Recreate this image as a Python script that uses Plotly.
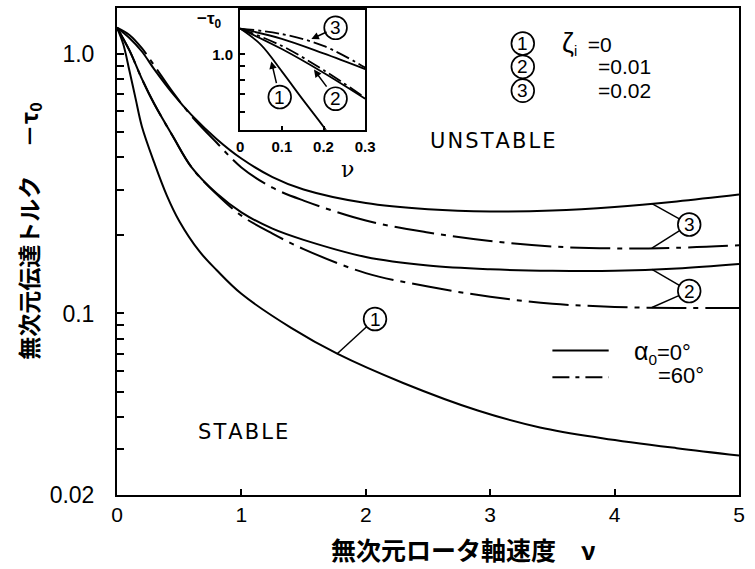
import numpy as np
import plotly.graph_objects as go

# ---- main chart: dimensionless rotor axial speed ν vs. transmitted torque −τ0 ----
nu_1 = [0, 0.05, 0.1, 0.15, 0.2, 0.3, 0.4, 0.5, 0.66, 0.8, 1.0, 1.4, 1.77, 2.3, 2.9, 3.4, 3.9, 4.5, 5.0]
tau_1 = [1.26, 1.09, 0.86, 0.67, 0.525, 0.38, 0.285, 0.227, 0.174, 0.147, 0.119, 0.088, 0.070,
         0.054, 0.0423, 0.0364, 0.0331, 0.0303, 0.0284]

nu_23 = [0, 0.1, 0.2, 0.3, 0.45, 0.6, 0.8, 1.0, 1.25, 1.5, 2.0, 2.5, 3.0, 3.5, 4.0, 4.5, 5.0]
tau_2_a0 = [1.26, 1.03, 0.80, 0.64, 0.48, 0.365, 0.29, 0.245, 0.212, 0.192, 0.165, 0.153,
            0.148, 0.146, 0.146, 0.149, 0.155]
tau_2_a60 = [1.26, 1.03, 0.80, 0.64, 0.48, 0.365, 0.288, 0.238, 0.203, 0.177, 0.143, 0.127,
             0.116, 0.109, 0.106, 0.105, 0.105]
tau_3_a0 = [1.26, 1.15, 1.02, 0.87, 0.70, 0.58, 0.47, 0.395, 0.335, 0.30, 0.266, 0.252,
            0.247, 0.249, 0.257, 0.270, 0.287]
tau_3_a60 = [1.26, 1.18, 1.05, 0.90, 0.71, 0.575, 0.455, 0.365, 0.305, 0.272, 0.228, 0.205,
             0.190, 0.181, 0.178, 0.179, 0.183]

# ---- inset: close-up of small ν ----
inset_nu_1 = [0, 0.05, 0.1, 0.15, 0.2, 0.22]
inset_tau_1 = [1.26, 1.09, 0.86, 0.67, 0.525, 0.47]
inset_nu = [0, 0.1, 0.2, 0.3]
inset_tau_2_a0 = [1.26, 1.05, 0.85, 0.674]
inset_tau_2_a60 = [1.26, 1.08, 0.87, 0.68]
inset_tau_3_a0 = [1.26, 1.15, 1.01, 0.878]
inset_tau_3_a60 = [1.26, 1.20, 1.08, 0.89]

y_major = [0.02, 0.1, 1.0]
y_major_text = ["0.02", "0.1", "1.0"]
y_minor = [0.03, 0.04, 0.05, 0.06, 0.07, 0.08, 0.09, 0.2, 0.3, 0.4, 0.5, 0.6, 0.7, 0.8, 0.9]
x_ticks = [0, 1, 2, 3, 4, 5]
inset_x_ticks = [0, 0.1, 0.2, 0.3]
inset_x_text = ["0", "0.1", "0.2", "0.3"]
inset_y_major, inset_y_major_text = [1.0], ["1.0"]
inset_y_minor = [0.6, 0.7, 0.8, 0.9]
zeta_labels = ["<span style='font-size:27px'>ζ</span><sub>i</sub>\u2002=0", "=0.01", "=0.02"]

INK = "black"
DASHDOT = "40px,7px,5px,7px"
INSET_DASH = "14px,4px,3px,4px"
TXT_FONT = dict(family="Liberation Sans", size=21, color=INK)
DIGIT_FONT = dict(family="Liberation Sans", size=19, color=INK)
R = 11.5  # radius of the circled curve numbers, px

# figure geometry (px) used to size circles on the axes
W, H = 755, 569
ML, MR, MT, MB = 117, 8, 6, 74
PW, PH = W - ML - MR, H - MT - MB
Y_RANGE = [np.log10(0.02), np.log10(1.5)]
X2_DOM, Y2_DOM = [0.198, 0.399], [0.750, 0.996]
Y2_RANGE = [np.log10(0.511), np.log10(1.488)]
SCALE = {
    "x": PW / 5.0,
    "y": PH / (Y_RANGE[1] - Y_RANGE[0]),
    "x2": PW * (X2_DOM[1] - X2_DOM[0]) / 0.3,
    "y2": PH * (Y2_DOM[1] - Y2_DOM[0]) / (Y2_RANGE[1] - Y2_RANGE[0]),
    "paper_x": PW,
    "paper_y": PH,
}
LOG_REFS = {"y", "y2"}


def log_interp(x, xs, ys):
    return float(np.interp(x, xs, np.log10(ys)))


def shape_y(v, ref):
    # shapes take data values on log axes; v is given in log10 units there
    return float(10 ** v) if ref in LOG_REFS else float(v)


fig = go.Figure()


def curve(xs, ys, dash="solid", xa="x", ya="y", width=2.0):
    fig.add_trace(go.Scatter(x=xs, y=ys, mode="lines", xaxis=xa, yaxis=ya,
                             line=dict(color=INK, width=width, dash=dash, shape="spline"),
                             hoverinfo="skip"))


curve(nu_1, tau_1)
curve(nu_23, tau_2_a0)
curve(nu_23, tau_2_a60, DASHDOT)
curve(nu_23, tau_3_a0)
curve(nu_23, tau_3_a60, DASHDOT)

curve(inset_nu_1, inset_tau_1, xa="x2", ya="y2", width=1.8)
curve(inset_nu, inset_tau_2_a0, xa="x2", ya="y2", width=1.8)
curve(inset_nu, inset_tau_2_a60, INSET_DASH, xa="x2", ya="y2", width=1.8)
curve(inset_nu, inset_tau_3_a0, xa="x2", ya="y2", width=1.8)
curve(inset_nu, inset_tau_3_a60, INSET_DASH, xa="x2", ya="y2", width=1.8)

axis_common = dict(showline=True, linecolor=INK, linewidth=2, mirror=True, showgrid=False,
                   zeroline=False, ticks="inside", tickcolor=INK, tickwidth=1.5)

fig.update_layout(
    width=W, height=H,
    margin=dict(l=ML, r=MR, t=MT, b=MB),
    paper_bgcolor="white", plot_bgcolor="white",
    showlegend=False,
    xaxis=dict(axis_common, range=[0, 5], tickvals=x_ticks, ticklen=6,
               tickfont=dict(family="Liberation Sans", size=21, color=INK),
               ticklabelstandoff=0),
    yaxis=dict(axis_common, type="log", range=Y_RANGE,
               tickvals=y_major, ticktext=y_major_text, ticklen=7,
               minor=dict(tickvals=y_minor, ticks="inside", ticklen=7, tickwidth=1.5,
                          tickcolor=INK, showgrid=False),
               tickfont=dict(family="Liberation Sans", size=23, color=INK),
               ticklabelstandoff=16),
    xaxis2=dict(axis_common, domain=X2_DOM, anchor="y2", range=[0, 0.3],
                tickvals=inset_x_ticks, ticktext=inset_x_text, ticklen=4,
                tickfont=dict(family="Liberation Sans", size=15, color=INK, weight="bold"),
                ticklabelstandoff=2),
    yaxis2=dict(axis_common, domain=Y2_DOM, anchor="x2", type="log", range=Y2_RANGE,
                tickvals=inset_y_major, ticktext=inset_y_major_text, ticklen=5,
                minor=dict(tickvals=inset_y_minor, ticks="inside", ticklen=5, tickwidth=1.5,
                           tickcolor=INK, showgrid=False),
                tickfont=dict(family="Liberation Sans", size=15, color=INK, weight="bold"),
                ticklabelstandoff=2),
)

ann = []


def text(x, y, s, font, xanchor="center", yanchor="middle", xref="paper", yref="paper", **kw):
    ann.append(dict(x=x, y=y, xref=xref, yref=yref, text=s, showarrow=False,
                    font=font, xanchor=xanchor, yanchor=yanchor, **kw))


def ring(cx, cy, xref, yref, sx, sy):
    """Circle of radius R px; cx, cy in axis units (log10 on log axes)."""
    fig.add_shape(type="circle", xref=xref, yref=yref,
                  x0=cx - R / sx, x1=cx + R / sx,
                  y0=shape_y(cy - R / sy, yref), y1=shape_y(cy + R / sy, yref),
                  line=dict(color=INK, width=1.7))


def circled(cx, cy, digit, xref, yref, sx, sy):
    ring(cx, cy, xref, yref, sx, sy)
    text(cx, cy, digit, DIGIT_FONT, xref=xref, yref=yref)


def edge_toward(cx, cy, px, py, sx, sy):
    """Point on the circle (cx, cy) facing (px, py), in axis units."""
    dx, dy = (px - cx) * sx, (py - cy) * sy
    L = np.hypot(dx, dy)
    return float(cx + R * dx / L / sx), float(cy + R * dy / L / sy)


# axis titles
text(-0.1413, 0.541, "<b>無次元伝達トルク　 －τ<sub>0</sub></b>",
     dict(family="Noto Sans CJK JP", size=23, color=INK), textangle=-90)
text(0.341, -0.1104, "<b>無次元ロータ軸速度　ν</b>",
     dict(family="Noto Sans CJK JP", size=25, color=INK), xanchor="left")

# region labels
region_font = dict(family="DejaVu Sans", size=21, color=INK)
text(0.605, 0.726, "U\u200aN\u200aS\u200aT\u200aA\u200aB\u200aL\u200aE", region_font)
text(0.2024, 0.1288, "S\u200aT\u200aA\u200aB\u200aL\u200aE", region_font)

# ζi key
key_y = [0.927, 0.8793, 0.8303]
for i, (yk, lab) in enumerate(zip(key_y, zeta_labels)):
    circled(0.6524, yk, str(i + 1), "paper", "paper", SCALE["paper_x"], SCALE["paper_y"])
    text(0.712 if i == 0 else 0.7698, yk, lab, TXT_FONT, xanchor="left")

# α0 key (line samples + text)
fig.add_shape(type="line", xref="paper", yref="paper", x0=0.70, x1=0.7905, y0=0.2965, y1=0.2965,
              line=dict(color=INK, width=2))
fig.add_shape(type="line", xref="paper", yref="paper", x0=0.70, x1=0.7905, y0=0.2419, y1=0.2419,
              line=dict(color=INK, width=2, dash="17px,6px,4px,6px"))
text(0.8285, 0.293, "<span style='font-size:25px'>α</span><sub>0</sub>=0°",
     dict(TXT_FONT, size=22), xanchor="left")
text(0.866, 0.2454, "=60°", dict(TXT_FONT, size=22), xanchor="left")

# inset labels
text(0.149, 0.9755, "<b>−τ<sub>0</sub></b>", dict(family="Liberation Sans", size=17, color=INK))
text(0.37, 0.6687, "ν", dict(family="DejaVu Serif", size=22, color=INK))


# circled numbers with leader lines to the main-plot curves
def leader(nu, xs, ys, digit, lx, ly, draw_circle=True):
    sx, sy = SCALE["x"], SCALE["y"]
    py = log_interp(nu, xs, ys)
    cy = float(np.log10(ly))
    ex, ey = edge_toward(lx, cy, nu, py, sx, sy)
    fig.add_shape(type="line", xref="x", yref="y", x0=nu, y0=shape_y(py, "y"),
                  x1=ex, y1=shape_y(ey, "y"), line=dict(color=INK, width=1.5))
    if draw_circle:
        circled(lx, cy, digit, "x", "y", sx, sy)


leader(1.77, nu_1, tau_1, "1", 2.074, 0.0952)
leader(4.3, nu_23, tau_2_a0, "2", 4.6, 0.122)
leader(4.3, nu_23, tau_2_a60, "2", 4.6, 0.122, draw_circle=False)
leader(4.3, nu_23, tau_3_a0, "3", 4.6, 0.220)
leader(4.3, nu_23, tau_3_a60, "3", 4.6, 0.220, draw_circle=False)


# circled numbers with small pointer arrows inside the inset
def pointer(nu, xs, ys, digit, lx, ly):
    sx, sy = SCALE["x2"], SCALE["y2"]
    py = log_interp(nu, xs, ys)
    cy = float(np.log10(ly))
    ring(lx, cy, "x2", "y2", sx, sy)
    # the digit sits in the ring; its arrow runs from the ring toward the curve
    ann.append(dict(x=nu, y=py, xref="x2", yref="y2", ax=lx, ay=cy, axref="x2", ayref="y2",
                    text=digit, font=DIGIT_FONT, borderpad=3,
                    showarrow=True, arrowhead=2, arrowsize=1, arrowwidth=1.5,
                    arrowcolor=INK, standoff=5))


pointer(0.072, inset_nu_1, inset_tau_1, "1", 0.095, 0.684)
pointer(0.17, inset_nu, inset_tau_2_a0, "2", 0.229, 0.674)
pointer(0.16, inset_nu, inset_tau_3_a60, "3", 0.229, 1.269)

fig.update_layout(annotations=ann)
fig.write_html("out.html")
